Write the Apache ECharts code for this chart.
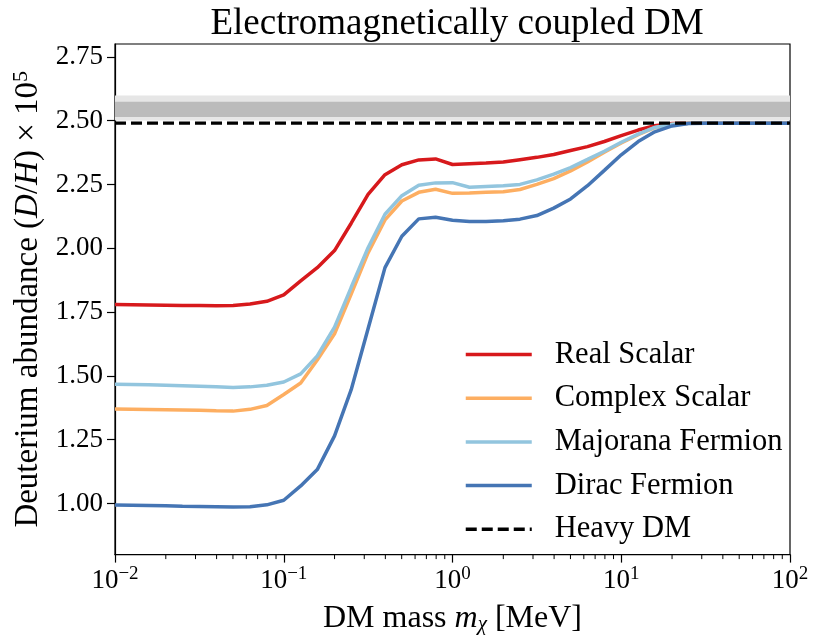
<!DOCTYPE html>
<html>
<head>
<meta charset="utf-8">
<script src="https://cdn.jsdelivr.net/npm/echarts@6/dist/echarts.min.js"></script>
<style>html,body{margin:0;padding:0;background:#fff}#c{width:815px;height:640px}</style>
</head>
<body>
<div id="c"></div>
<script>
const massMeV = [0.01,0.0126,0.0158,0.02,0.0251,0.0316,0.0398,0.0501,0.0631,0.0794,
  0.1,0.126,0.158,0.2,0.251,0.316,0.398,0.501,0.631,0.794,
  1,1.26,1.58,2,2.51,3.16,3.98,5.01,6.31,7.94,
  10,12.6,15.8,20,25.1,31.6,39.8,50.1,63.1,79.4,100];
const realScalar = [1.780,1.779,1.778,1.777,1.776,1.776,1.775,1.776,1.782,1.792,
  1.817,1.872,1.924,1.991,2.098,2.211,2.288,2.327,2.346,2.350,
  2.328,2.331,2.334,2.338,2.347,2.356,2.367,2.383,2.398,2.418,
  2.441,2.463,2.480,2.489,2.490,2.490,2.490,2.490,2.490,2.490,2.490];
const complexScalar = [1.370,1.369,1.368,1.367,1.366,1.365,1.363,1.362,1.369,1.384,
  1.427,1.472,1.562,1.665,1.820,1.982,2.111,2.185,2.219,2.231,
  2.215,2.216,2.219,2.221,2.230,2.250,2.273,2.303,2.338,2.376,
  2.412,2.445,2.472,2.486,2.490,2.490,2.490,2.490,2.490,2.490,2.490];
const majoranaFermion = [1.467,1.466,1.465,1.463,1.461,1.459,1.457,1.455,1.457,1.463,
  1.476,1.508,1.578,1.691,1.847,2.002,2.133,2.206,2.247,2.256,
  2.257,2.239,2.242,2.245,2.250,2.268,2.290,2.316,2.348,2.380,
  2.415,2.447,2.473,2.486,2.490,2.490,2.490,2.490,2.490,2.490,2.490];
const diracFermion = [0.994,0.993,0.992,0.991,0.989,0.988,0.987,0.986,0.987,0.995,
  1.013,1.069,1.133,1.265,1.446,1.685,1.924,2.047,2.115,2.121,
  2.110,2.105,2.105,2.108,2.114,2.128,2.157,2.193,2.245,2.305,
  2.366,2.418,2.456,2.479,2.489,2.490,2.490,2.490,2.490,2.490,2.490];
const heavyDM = 2.49;
const heavyRange = [0.01, 100];
const bandOuter = [2.500, 2.598];
const bandInner = [2.514, 2.574];
const yTicks = [1.00,1.25,1.50,1.75,2.00,2.25,2.50,2.75];
const xMinorTicks = [0.02,0.03,0.04,0.05,0.06,0.07,0.08,0.09,
  0.2,0.3,0.4,0.5,0.6,0.7,0.8,0.9,2,3,4,5,6,7,8,9,20,30,40,50,60,70,80,90];
const names = ['Real Scalar','Complex Scalar','Majorana Fermion','Dirac Fermion','Heavy DM'];
const colors = ['#d7191c','#fdae61','#92c5de','#4575b4','#000000'];

const FONT = 'Liberation Serif';
const zip = ys => massMeV.map((m,i)=>[m, ys[i]]);
const chart = echarts.init(document.getElementById('c'), null, {renderer:'canvas'});
const lineSeries = (name, ys, color) => ({
  name, type:'line', data: zip(ys), symbol:'none', smooth:false,
  lineStyle:{color, width:3.5}, itemStyle:{color}, z:3
});
chart.setOption({
  animation:false,
  backgroundColor:'#fff',
  title:{
    text:'Electromagnetically coupled DM', left:452, top:1, textAlign:'center',
    textStyle:{fontFamily:FONT, fontSize:37, fontWeight:'normal', color:'#000'}
  },
  grid:{left:115, right:25, top:44, bottom:79, show:true, borderColor:'#000', borderWidth:1.2, containLabel:false},
  legend:{
    orient:'vertical', left:459, top:334, itemWidth:66, itemHeight:14, itemGap:12.7,
    data:names,
    itemStyle:{opacity:0},
    lineStyle:{width:3.5},
    textStyle:{fontFamily:FONT, fontSize:30.5, color:'#000', padding:[0,0,0,18]}
  },
  xAxis:{
    type:'log', logBase:10, min:0.01, max:100,
    name:'DM mass {i|m}{s|χ} [MeV]', nameLocation:'middle', nameGap:39,
    nameTextStyle:{fontFamily:FONT, fontSize:32, color:'#000', verticalAlign:'top',
      rich:{i:{fontFamily:FONT, fontSize:32, fontStyle:'italic', color:'#000'},
            s:{fontFamily:FONT, fontSize:21, fontStyle:'italic', color:'#000', padding:[12,0,0,0]}}},
    axisLine:{show:true, lineStyle:{color:'#000', width:1.2}},
    axisTick:{show:true, length:8, lineStyle:{color:'#000', width:1.2}},
    minorTick:{show:false},
    splitLine:{show:false},
    axisLabel:{
      margin:10, color:'#000',
      formatter: v => { const e = Math.round(Math.log10(v)); return '{n|10}{p|' + (e<0?'\u2212':'') + Math.abs(e) + '}'; },
      rich:{n:{fontFamily:FONT, fontSize:27, color:'#000', lineHeight:30, verticalAlign:'bottom'},
            p:{fontFamily:FONT, fontSize:19, color:'#000', lineHeight:30, verticalAlign:'top', padding:[0,0,14,0]}}
    }
  },
  yAxis:{
    type:'value', min:0.8, max:2.8,
    name:'{a|Deuterium abundance (}{i|D}{a|/}{i|H}{a|) \u00d7 10}{p|5}', nameLocation:'middle', nameGap:66, nameRotate:90,
    nameTextStyle:{fontFamily:FONT, fontSize:33, color:'#000',
      rich:{a:{fontFamily:FONT, fontSize:33, color:'#000'},
            i:{fontFamily:FONT, fontSize:33, fontStyle:'italic', color:'#000'},
            p:{fontFamily:FONT, fontSize:22, color:'#000', padding:[0,0,15,0]}}},
    axisLine:{show:true, lineStyle:{color:'#000', width:1.2}},
    axisTick:{show:true, length:8, customValues:yTicks, lineStyle:{color:'#000', width:1.2}},
    splitLine:{show:false},
    axisLabel:{customValues:yTicks, margin:12, fontFamily:FONT, fontSize:27, color:'#000', formatter:v=>v.toFixed(2)}
  },
  series:[
    {
      name:'bands', type:'line', data:[], silent:true, z:1,
      markArea:{silent:true, data:[
        [{yAxis:bandOuter[0], itemStyle:{color:'#e6e6e6', opacity:1}}, {yAxis:bandOuter[1]}],
        [{yAxis:bandInner[0], itemStyle:{color:'#bbbbbb', opacity:1}}, {yAxis:bandInner[1]}]
      ]}
    },
    lineSeries(names[0], realScalar, colors[0]),
    lineSeries(names[1], complexScalar, colors[1]),
    lineSeries(names[2], majoranaFermion, colors[2]),
    lineSeries(names[3], diracFermion, colors[3]),
    {
      name:names[4], type:'line', symbol:'none', z:5,
      data: heavyRange.map(m=>[m, heavyDM]),
      lineStyle:{color:'#000', width:3.2, type:[11,5]}, itemStyle:{color:'#000'}
    },
    {
      name:'minor', type:'custom', silent:true, z:6, clip:false,
      data: xMinorTicks.map(m=>[m, 0.8]),
      renderItem:(params, api) => {
        const p = api.coord([api.value(0), api.value(1)]);
        return {type:'line', shape:{x1:p[0], y1:p[1], x2:p[0], y2:p[1]+4.5}, style:{stroke:'#000', lineWidth:1}};
      }
    }
  ]
});
</script>
</body>
</html>
